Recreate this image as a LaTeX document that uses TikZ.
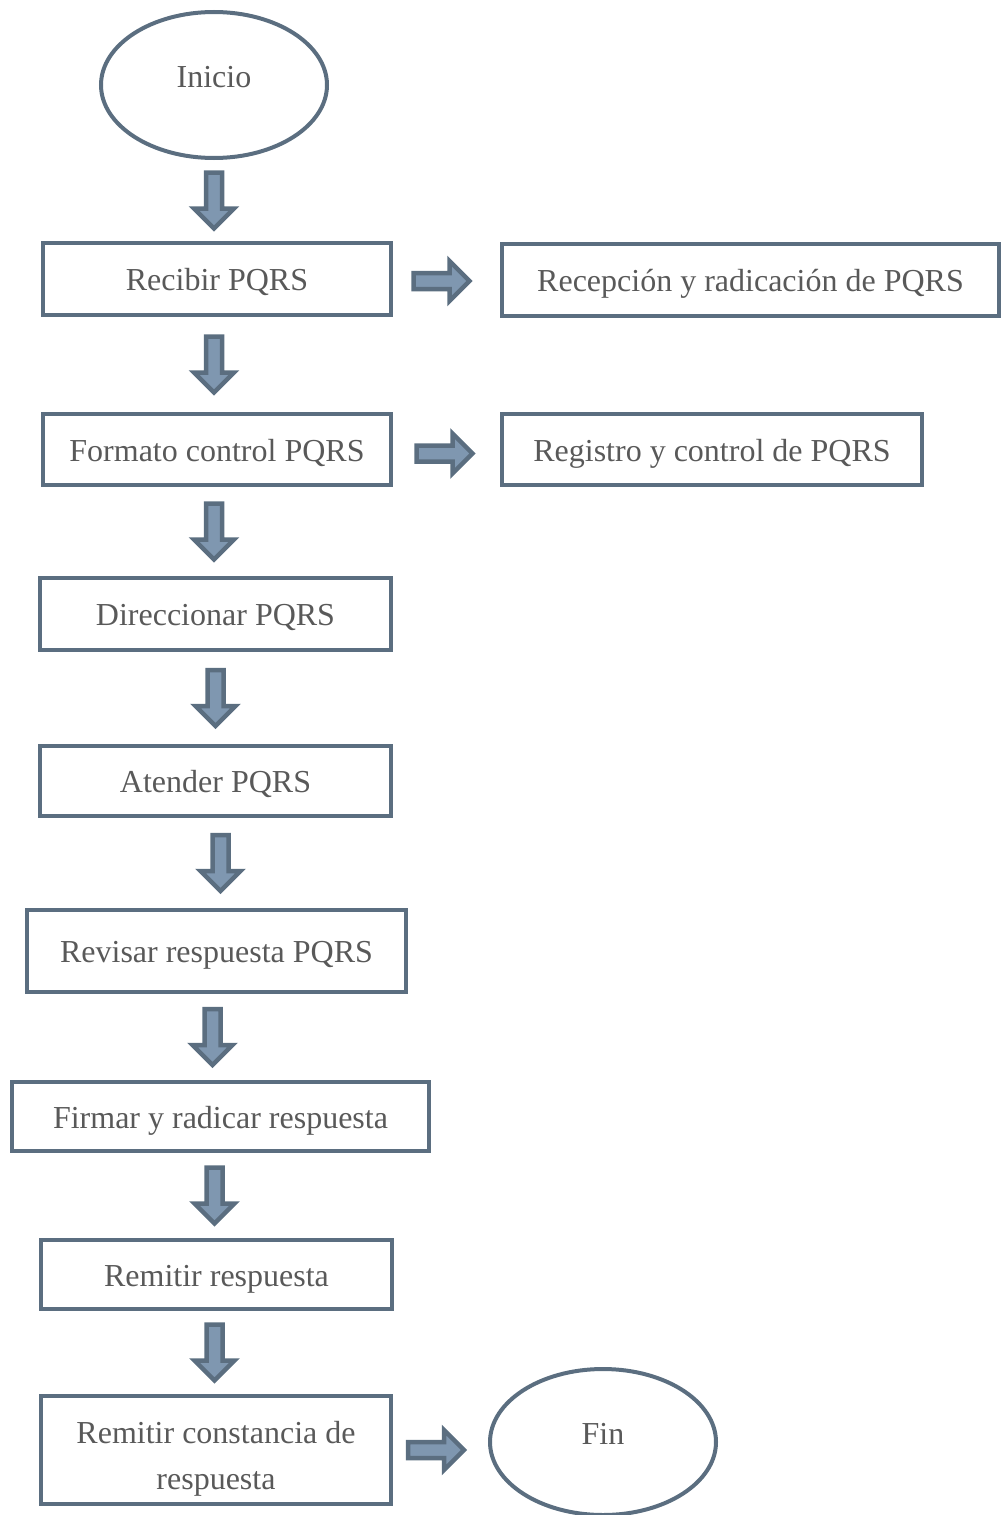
\documentclass[tikz,border=0pt]{standalone}
\usepackage{fontspec}
\setmainfont{Liberation Serif}
\usetikzlibrary{shapes,arrows,positioning,calc}
\definecolor{edge}{HTML}{5B6E80}
\definecolor{arrowfill}{HTML}{7F97B0}
\definecolor{txtgray}{HTML}{595959}

\begin{document}
\begin{tikzpicture}[x=1pt, y=-1pt,
    box/.style={rectangle, draw=edge, line width=4pt, text=txtgray, minimum height=72pt, inner sep=0pt, align=center, text height=30pt, text depth=7pt, font=\fontsize{32}{46}\selectfont},
    term/.style={ellipse, draw=edge, line width=4pt, text=txtgray, minimum width=226pt, minimum height=146pt, inner sep=0pt, text height=22pt, text depth=18pt, font=\fontsize{32}{46}\selectfont},
    fat/.style={draw=edge, fill=arrowfill, line width=4.5pt, line join=miter,
        to path={let \p1=(\tikztostart), \p2=(\tikztotarget),
            \p3=($(\p1)!0.5!(\p2)$), \p4=($(\p3)!28pt!(\p1)$),
            \p5=($(\p3)!28pt!(\p2)$), \p6=($(\p5)!20pt!(\p4)$) in
            ($(\p4)!8pt!90:(\p5)$) -- ($(\p6)!8pt!90:(\p5)$) -- ($(\p6)!20pt!90:(\p5)$) -- (\p5)
            -- ($(\p6)!20pt!-90:(\p5)$) -- ($(\p6)!8pt!-90:(\p5)$) -- ($(\p4)!8pt!-90:(\p5)$) -- cycle}}
]
\clip (0,0) rectangle (1003,1515);

% Main flow
\node[term] at (214,85) (inicio) {Inicio};
\node[box, minimum width=348pt] at (217,279) (recibir) {Recibir PQRS};
\node[box, minimum width=348pt, minimum height=71pt] at (217,449.5) (formato) {Formato control PQRS};
\node[box, minimum width=351pt] at (215.5,614) (direccionar) {Direccionar PQRS};
\node[box, minimum width=351pt, minimum height=70pt] at (215.5,781) (atender) {Atender PQRS};
\node[box, minimum width=379pt, minimum height=82pt] at (216.5,951) (revisar) {Revisar respuesta PQRS};
\node[box, minimum width=417pt, minimum height=69pt] at (220.5,1116.5) (firmar) {Firmar y radicar respuesta};
\node[box, minimum width=351pt, minimum height=69pt] at (216.5,1274.5) (remitir) {Remitir respuesta};
\node[box, minimum width=350pt, minimum height=108pt, text height=, text depth=] at (216,1450) (constancia) {\rule{0pt}{40pt}Remitir constancia de\\respuesta};
\node[term] at (603,1442) (fin) {Fin};

% Side boxes
\node[box, minimum width=497pt] at (750.5,280) (recepcion) {Recepción y radicación de PQRS};
\node[box, minimum width=420pt, minimum height=71pt] at (712,449.5) (registro) {Registro y control de PQRS};

% Arrows
\draw[fat] (inicio.south) to (inicio.south |- recibir.north);
\draw[fat] ([xshift=-3pt]recibir.south) to ([xshift=-3pt]recibir.south |- formato.north);
\draw[fat] ([xshift=-3pt]formato.south) to ([xshift=-3pt]formato.south |- direccionar.north);
\draw[fat] (direccionar.south) to (direccionar.south |- atender.north);
\draw[fat] ([xshift=5pt]atender.south) to ([xshift=5pt]atender.south |- revisar.north);
\draw[fat] ([xshift=-4pt]revisar.south) to ([xshift=-4pt]revisar.south |- firmar.north);
\draw[fat] ([xshift=-6pt]firmar.south) to ([xshift=-6pt]firmar.south |- remitir.north);
\draw[fat] ([xshift=-2pt]remitir.south) to ([xshift=-2pt]remitir.south |- constancia.north);
\draw[fat] ([yshift=-2pt]recibir.east) to ([xshift=-10pt, yshift=-2pt]recibir.east -| recepcion.west);
\draw[fat] ([yshift=-4pt]formato.east) to ([xshift=-4pt, yshift=-4pt]formato.east -| registro.west);
\draw[fat] (constancia.east) to ([xshift=-9pt]constancia.east -| fin.west);

\end{tikzpicture}
\end{document}
